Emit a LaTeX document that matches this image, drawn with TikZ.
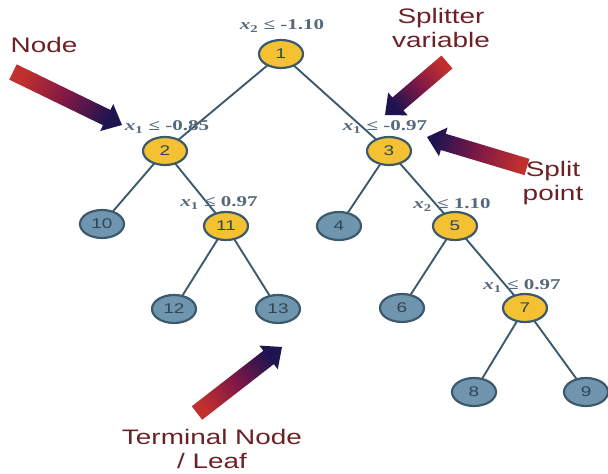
\documentclass[tikz,border=0pt]{standalone}
\usepackage{fontspec}
\setmainfont{Liberation Serif}
\setsansfont{Liberation Sans}
\usetikzlibrary{shapes.geometric,calc}
\definecolor{nodeY}{HTML}{F4C132}
\definecolor{leafB}{HTML}{7095AE}
\definecolor{edgeC}{HTML}{3C5A6C}
\definecolor{numC}{HTML}{2E4657}
\definecolor{labC}{HTML}{56697A}
\definecolor{annC}{HTML}{6B2226}
\definecolor{arrOr}{HTML}{C2302E}
\definecolor{arrPu}{HTML}{7E1846}
\definecolor{arrNv}{HTML}{1E1450}
\newcommand\fatarrow[3]{%
  \coordinate (#1neck) at ($(#2)!17pt!(#1)$);
  \shade[top color=arrNv, bottom color=arrOr, middle color=arrPu, shading angle=#3]
    ($(#1)!8.5pt!90:(#2)$) -- ($(#1neck)!8.5pt!90:(#2)$) -- ($(#1neck)!15pt!90:(#2)$) -- (#2)
    -- ($(#1neck)!15pt!-90:(#2)$) -- ($(#1neck)!8.5pt!-90:(#2)$) -- ($(#1)!8.5pt!-90:(#2)$) -- cycle;
}
\newcommand\lab[2]{\scalebox{1.4}[1]{\textbf{\textit{x}\textsubscript{#1} ≤ #2}}}
\tikzset{
  tnode/.style={ellipse, draw=edgeC, line width=2.2pt, minimum width=44pt, minimum height=28pt, inner sep=0pt,
    font=\sffamily\fontsize{14}{14}\selectfont, text=numC},
  inner/.style={tnode, fill=nodeY},
  leaf/.style={tnode, fill=leafB},
  edge/.style={draw=edgeC, line width=1.9pt},
  splitlab/.style={font=\fontsize{15}{15}\selectfont, text=labC, inner sep=0pt},
  ann/.style={font=\sffamily\fontsize{21}{24}\selectfont, text=annC, align=center, inner sep=0pt}
}
\begin{document}
\begin{tikzpicture}[x=1pt,y=-1pt]
\useasboundingbox (0,0) rectangle (608,474);
% coordinates of nodes
\coordinate (p1) at (281,54);
\coordinate (p2) at (165,151);
\coordinate (p3) at (389,151);
\coordinate (p10) at (102,224);
\coordinate (p11) at (226,226);
\coordinate (p4) at (339,226);
\coordinate (p5) at (455,226);
\coordinate (p12) at (174,309);
\coordinate (p13) at (278,309);
\coordinate (p6) at (402,308);
\coordinate (p7) at (525,308);
\coordinate (p8) at (474,392);
\coordinate (p9) at (586,392);
% edges
\foreach \a/\b in {1/2,1/3,2/10,2/11,11/12,11/13,3/4,3/5,5/6,5/7,7/8,7/9}
  \draw[edge] (p\a) -- (p\b);
% nodes
\node[inner] (n1) at (p1) {\scalebox{1.35}[1]{1}};
\node[inner] (n2) at (p2) {\scalebox{1.35}[1]{2}};
\node[inner] (n3) at (p3) {\scalebox{1.35}[1]{3}};
\node[inner] (n11) at (p11) {\scalebox{1.35}[1]{11}};
\node[inner] (n5) at (p5) {\scalebox{1.35}[1]{5}};
\node[inner] (n7) at (p7) {\scalebox{1.35}[1]{7}};
\node[leaf] (n10) at (p10) {\scalebox{1.35}[1]{10}};
\node[leaf] (n4) at (p4) {\scalebox{1.35}[1]{4}};
\node[leaf] (n12) at (p12) {\scalebox{1.35}[1]{12}};
\node[leaf] (n13) at (p13) {\scalebox{1.35}[1]{13}};
\node[leaf] (n6) at (p6) {\scalebox{1.35}[1]{6}};
\node[leaf] (n8) at (p8) {\scalebox{1.35}[1]{8}};
\node[leaf] (n9) at (p9) {\scalebox{1.35}[1]{9}};
% split labels
\node[splitlab] (l1) at (282,26) {\lab{2}{-1.10}};
\node[splitlab] (l2) at (167,127) {\lab{1}{-0.85}};
\node[splitlab] (l3) at (385,127) {\lab{1}{-0.97}};
\node[splitlab] (l11) at (219,203) {\lab{1}{0.97}};
\node[splitlab] (l5) at (452,205) {\lab{2}{1.10}};
\node[splitlab] (l7) at (522,286) {\lab{1}{0.97}};
% annotation texts
\node[ann] (tnode) at (44,45) {\scalebox{1.33}[1]{Node}};
\node[ann] (tsplitter) at (441,28) {\scalebox{1.33}[1]{Splitter}\\\scalebox{1.33}[1]{variable}};
\node[ann] (tsplit) at (553,183) {\scalebox{1.33}[1]{Split}\\\scalebox{1.33}[1]{point}};
\node[ann] (tterm) at (212,449) {\scalebox{1.33}[1]{Terminal Node}\\\scalebox{1.33}[1]{/ Leaf}};
% annotation arrows
\coordinate (aNodeT) at (13,72);   \coordinate (aNodeH) at (122,125);
\coordinate (aSpvT) at (447,62);   \coordinate (aSpvH) at (385,115);
\coordinate (aSppT) at (527,167);  \coordinate (aSppH) at (427,137);
\coordinate (aTermT) at (197,413); \coordinate (aTermH) at (282,347);
\fatarrow{aNodeT}{aNodeH}{-115.9}
\fatarrow{aSpvT}{aSpvH}{130.5}
\fatarrow{aSppT}{aSppH}{73.3}
\fatarrow{aTermT}{aTermH}{-52.2}
\end{tikzpicture}
\end{document}
